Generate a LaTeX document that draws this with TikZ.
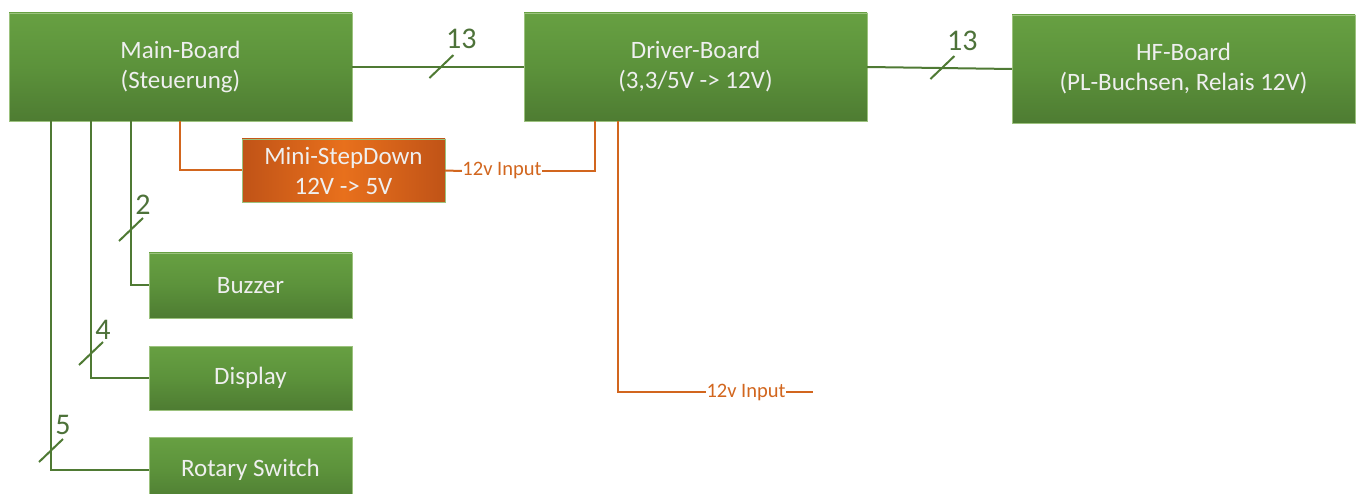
\documentclass[tikz,border=0pt]{standalone}
\usepackage{fontspec}
\setmainfont{Carlito}
\usetikzlibrary{calc}
\definecolor{gtop}{HTML}{67A042}
\definecolor{gmid}{HTML}{5C923B}
\definecolor{gbot}{HTML}{4E7C32}
\definecolor{gedge}{HTML}{9CC27E}
\definecolor{busc}{HTML}{4F7A34}
\definecolor{numc}{HTML}{4D7239}
\definecolor{ored}{HTML}{C05317}
\definecolor{obright}{HTML}{E8701C}
\definecolor{pwc}{HTML}{D2661E}
\definecolor{txt}{HTML}{EFEFEF}
\tikzset{
  gbox/.style={rectangle, anchor=north west, inner sep=0pt, outer sep=0pt,
    top color=gtop, bottom color=gbot, middle color=gmid,
    draw=gedge, line width=0.8pt, text=txt, align=center,
    font=\fontsize{25}{30}\selectfont},
  obox/.style={rectangle, anchor=north west, inner sep=0pt, outer sep=0pt,
    left color=ored, right color=ored, middle color=obright,
    draw=gedge, line width=0.8pt, text=txt, align=center,
    font=\fontsize{25}{30}\selectfont},
  bus/.style={draw=busc, line width=2pt},
  pw/.style={draw=pwc, line width=2pt},
  num/.style={text=numc, font=\fontsize{30}{32}\selectfont, inner sep=0pt},
  inlab/.style={text=pwc, font=\fontsize{20.5}{22}\selectfont, inner sep=0.5pt, fill=white},
}
\begin{document}
\begin{tikzpicture}[x=1pt,y=-1pt]
\useasboundingbox (0,0) rectangle (1357,494);
\clip (0,0) rectangle (1357,494);
% boxes
\node[gbox, minimum width=343pt, minimum height=108pt] (main) at (9,13) {Main-Board\\(Steuerung)};
\node[gbox, minimum width=343pt, minimum height=108pt] (driver) at (524,13) {Driver-Board\\(3,3/5V -> 12V)};
\node[gbox, minimum width=343pt, minimum height=108pt] (hf) at (1012,15) {HF-Board\\(PL-Buchsen, Relais 12V)};
\node[obox, minimum width=203pt, minimum height=63pt] (mini) at (242,139) {Mini-StepDown\\12V -> 5V};
\node[gbox, minimum width=203pt, minimum height=65pt] (buzzer) at (149,253) {Buzzer};
\node[gbox, minimum width=203pt, minimum height=64pt] (display) at (149,346) {Display};
\node[gbox, minimum width=203pt, minimum height=66pt] (rotary) at (149,437) {Rotary Switch};
% bus connectors
\draw[bus] (main.east) -- coordinate[pos=0.52] (s1) (driver.west);
\draw[bus] ($(s1)+(-12,11)$) -- ++(24,-23);
\node[num] at ($(s1)+(20,-28)$) {13};
\draw[bus] (driver.east) -- coordinate[pos=0.52] (s2) (hf.west);
\draw[bus] ($(s2)+(-12,11)$) -- ++(24,-23);
\node[num] at ($(s2)+(20,-27)$) {13};
\coordinate (m3) at ($(main.south west)+(122,0)$);
\coordinate (m2) at ($(main.south west)+(82,0)$);
\coordinate (m1) at ($(main.south west)+(42,0)$);
\draw[bus] (m3) |- (buzzer.west);
\draw[bus] (m2) |- (display.west);
\draw[bus] (m1) |- (rotary.west);
\coordinate (t3) at ($(m3)+(0,109)$);
\coordinate (t2) at ($(m2)+(0,233)$);
\coordinate (t1) at ($(m1)+(0,330)$);
\draw[bus] ($(t3)+(-12,11)$) -- ++(24,-23);
\node[num] at ($(t3)+(12,-25)$) {2};
\draw[bus] ($(t2)+(-12,11)$) -- ++(24,-23);
\node[num] at ($(t2)+(12,-24)$) {4};
\draw[bus] ($(t1)+(-12,11)$) -- ++(24,-23);
\node[num] at ($(t1)+(12,-26)$) {5};
% power connectors
\coordinate (o1) at ($(main.south west)+(171,0)$);
\draw[pw] (o1) |- (mini.west);
\node[inlab] (in1) at (502,171) {12v Input};
\coordinate (d1) at ($(driver.south west)+(71,0)$);
\draw[pw] (mini.east) -- (in1.west);
\draw[pw] (in1.east) -| (d1);
\coordinate (d2) at ($(driver.south west)+(94,0)$);
\node[inlab] (in2) at (746,392) {12v Input};
\coordinate (e2) at (813,392);
\draw[pw] (d2) |- (in2.west);
\draw[pw] (in2.east) -- (e2);
\end{tikzpicture}
\end{document}
